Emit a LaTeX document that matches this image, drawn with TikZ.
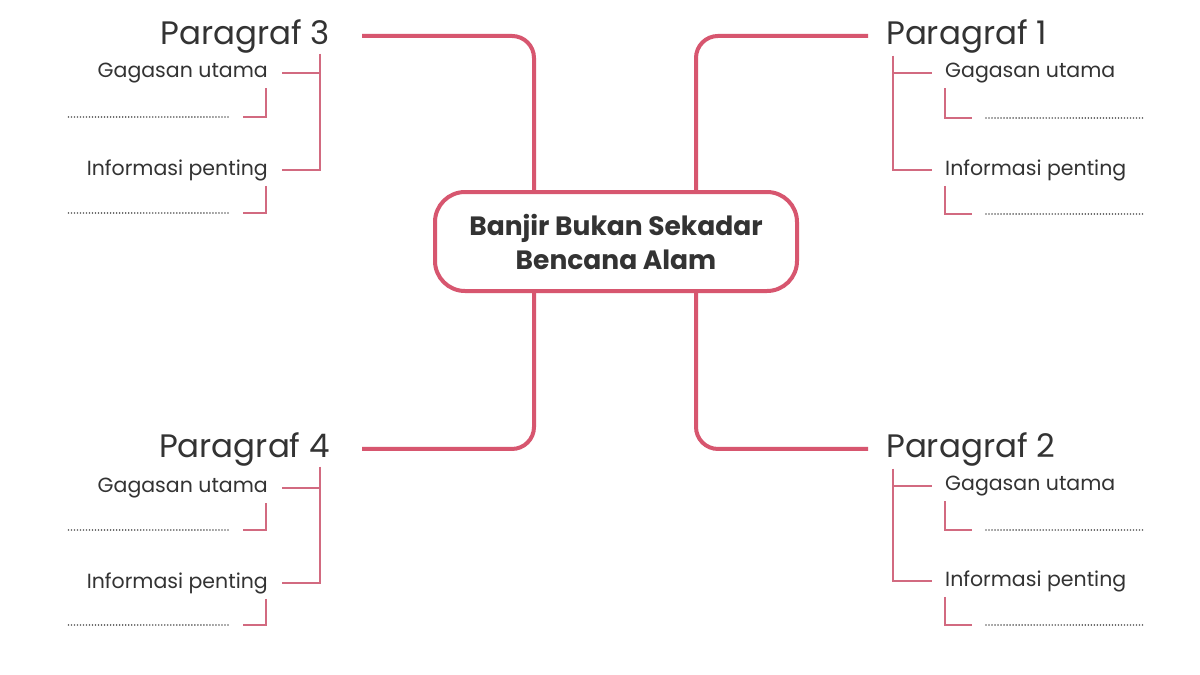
\documentclass[tikz,border=0pt]{standalone}
\usepackage{fontspec}
\setmainfont{Poppins}
\definecolor{pinkline}{HTML}{D7566F}
\definecolor{subpink}{HTML}{D26A80}
\definecolor{txt}{HTML}{333333}
\definecolor{dotc}{HTML}{606060}
\begin{document}
\begin{tikzpicture}[x=1pt,y=-1pt,
 mainline/.style={draw=pinkline, line width=4pt, rounded corners=22pt},
 subline/.style={draw=subpink, line width=2pt},
 titletext/.style={text=txt, font=\fontsize{32.5}{36}\selectfont, inner sep=0pt},
 itemtext/.style={text=txt, font=\fontsize{20.5}{24}\selectfont, inner sep=0pt},
 dotline/.style={draw=dotc, line width=1.7pt, dash pattern=on 0.01pt off 3pt, line cap=round},
 centerbox/.style={draw=pinkline, line width=4pt, rounded corners=30pt, minimum width=362pt, minimum height=99pt, align=center, text=txt, font=\bfseries\fontsize{26.5}{34}\selectfont}]
\useasboundingbox[fill=white] (0,0) rectangle (1200,675);

% central box
\node[centerbox] (box) at (616,241.5) {Banjir Bukan Sekadar\\Bencana Alam};

% titles
\node[titletext, anchor=base west] (p1) at (886,44) {Paragraf 1};
\node[titletext, anchor=base west] (p2) at (886,457) {Paragraf 2};
\node[titletext, anchor=base east] (p3) at (330,44) {Paragraf 3};
\node[titletext, anchor=base east] (p4) at (330,457) {Paragraf 4};

% items
\node[itemtext, anchor=west] (ga1) at (945,73) {Gagasan utama};
\node[itemtext, anchor=west] (ip1) at (945,170) {Informasi penting};
\node[itemtext, anchor=west] (ga2) at (945,486) {Gagasan utama};
\node[itemtext, anchor=west] (ip2) at (945,581) {Informasi penting};
\node[itemtext, anchor=east] (ga3) at (268,73) {Gagasan utama};
\node[itemtext, anchor=east] (ip3) at (268,170) {Informasi penting};
\node[itemtext, anchor=east] (ga4) at (268,488) {Gagasan utama};
\node[itemtext, anchor=east] (ip4) at (268,583) {Informasi penting};

% dotted answer lines
\coordinate (d1a) at (986,118);  \coordinate (d1b) at (1145,118);
\coordinate (d2a) at (986,214);  \coordinate (d2b) at (1145,214);
\coordinate (d3a) at (986,530);  \coordinate (d3b) at (1145,530);
\coordinate (d4a) at (986,625);  \coordinate (d4b) at (1145,625);
\coordinate (d5a) at (228,117);  \coordinate (d5b) at (68,117);
\coordinate (d6a) at (228,213);  \coordinate (d6b) at (68,213);
\coordinate (d7a) at (228,530);  \coordinate (d7b) at (68,530);
\coordinate (d8a) at (228,625);  \coordinate (d8b) at (68,625);
\foreach \i in {1,...,8} {\draw[dotline] (d\i a) -- (d\i b);}

% main connectors
\draw[mainline] ([xshift=80pt]box.north) |- ([xshift=-18pt]p1.west);
\draw[mainline] ([xshift=80pt]box.south) |- ([xshift=-18pt]p2.west);
\draw[mainline] ([xshift=-82pt]box.north) |- ([xshift=32pt]p3.east);
\draw[mainline] ([xshift=-82pt]box.south) |- ([xshift=32pt]p4.east);

% right branches
\draw[subline] ([xshift=7pt,yshift=-3pt]p1.south west) |- ([xshift=-13pt]ga1.west);
\draw[subline] ([xshift=7pt,yshift=-3pt]p1.south west) |- ([xshift=-13pt]ip1.west);
\draw[subline] ([xshift=7pt,yshift=-3pt]p2.south west) |- ([xshift=-13pt]ga2.west);
\draw[subline] ([xshift=7pt,yshift=-3pt]p2.south west) |- ([xshift=-13pt]ip2.west);
\draw[subline] ([yshift=-5pt]ga1.south west) |- ([xshift=-14pt]d1a);
\draw[subline] ([yshift=-5pt]ip1.south west) |- ([xshift=-14pt]d2a);
\draw[subline] ([yshift=-5pt]ga2.south west) |- ([xshift=-14pt]d3a);
\draw[subline] ([yshift=-5pt]ip2.south west) |- ([xshift=-14pt]d4a);

% left branches
\draw[subline] ([xshift=-10pt,yshift=-1pt]p3.south east) |- ([xshift=14pt]ga3.east);
\draw[subline] ([xshift=-10pt,yshift=-1pt]p3.south east) |- ([xshift=14pt]ip3.east);
\draw[subline] ([xshift=-10pt,yshift=-1pt]p4.south east) |- ([xshift=14pt]ga4.east);
\draw[subline] ([xshift=-10pt,yshift=-1pt]p4.south east) |- ([xshift=14pt]ip4.east);
\draw[subline] ([xshift=-2pt,yshift=-5pt]ga3.south east) |- ([xshift=15pt]d5a);
\draw[subline] ([xshift=-2pt,yshift=-5pt]ip3.south east) |- ([xshift=15pt]d6a);
\draw[subline] ([xshift=-2pt,yshift=-5pt]ga4.south east) |- ([xshift=15pt]d7a);
\draw[subline] ([xshift=-2pt,yshift=-5pt]ip4.south east) |- ([xshift=15pt]d8a);
\end{tikzpicture}
\end{document}
